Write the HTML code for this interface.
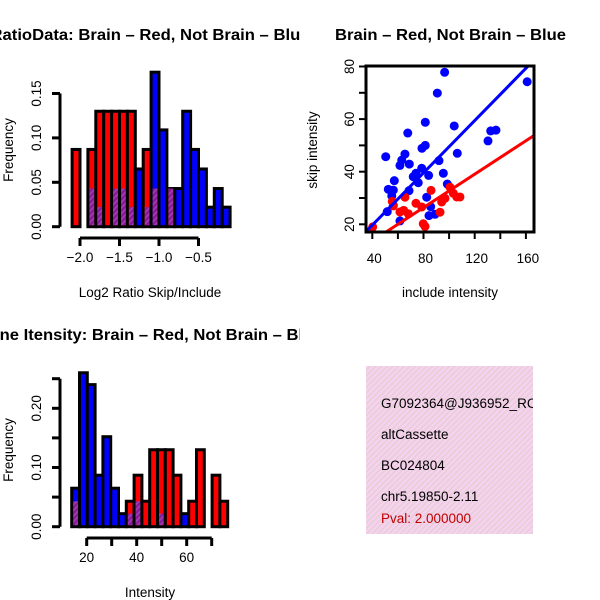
<!DOCTYPE html>
<html><head><meta charset="utf-8"><style>
body{margin:0;background:#fff}
svg{display:block;font-family:"Liberation Sans",sans-serif}
</style></head><body>
<svg id="s" width="600" height="600" viewBox="0 0 600 600">
<defs>
<pattern id="hatch" width="4" height="4" patternUnits="userSpaceOnUse" patternTransform="rotate(45)">
<rect width="4" height="4" fill="#8a1a9a"/><rect width="1.5" height="4" fill="#a040b0"/></pattern>
<pattern id="pinkh" width="4" height="4" patternUnits="userSpaceOnUse" patternTransform="rotate(45)">
<rect width="4" height="4" fill="#f8d0f0"/><rect width="1.3" height="4" fill="#e0d0d0"/></pattern>
<clipPath id="scClip"><rect x="366" y="66" width="168" height="166"/></clipPath>
<clipPath id="txClip"><rect x="366" y="366" width="167" height="168"/></clipPath>
<clipPath id="leftClip"><rect x="0" y="0" width="300" height="600"/></clipPath>
</defs>
<g clip-path="url(#leftClip)">
<text x="150" y="40" font-size="16" font-weight="bold" text-anchor="middle" textLength="319" lengthAdjust="spacingAndGlyphs">RatioData: Brain – Red, Not Brain – Blue</text>
<text x="150" y="340" font-size="16" font-weight="bold" text-anchor="middle" textLength="345" lengthAdjust="spacingAndGlyphs">Gene Itensity: Brain – Red, Not Brain – Blue</text>
</g>
<text x="335" y="40" font-size="16" font-weight="bold" textLength="231" lengthAdjust="spacingAndGlyphs">Brain – Red, Not Brain – Blue</text>
<g id="h1"></g>
<g id="h2"></g>
<g id="sc"></g>
<g>
<rect x="366" y="366" width="167" height="168" fill="url(#pinkh)"/>
<g clip-path="url(#txClip)" font-size="13.5">
<text x="381" y="408">G7092364@J936952_RC</text>
<text x="381" y="439">altCassette</text>
<text x="381" y="470">BC024804</text>
<text x="381" y="501">chr5.19850-2.11</text>
<text x="381" y="523" fill="#c00000">Pval: 2.000000</text>
</g></g>
</svg>
<script>
// Ratio histogram data
const ratioRed=[.087,0,.087,.13,.13,.13,.13,.13,0,.087,.043,0,.043,0,0,0,0,0,0,0];
const ratioBlue=[0,0,.043,.022,0,.043,.043,.022,.065,.022,.174,.109,.043,.043,.13,.087,.065,.022,.043,.022];
const ratioStart=-2.1, ratioStep=0.1;
const ratioXTicks=[-2.0,-1.5,-1.0,-0.5];
const ratioYTicks=[0,0.05,0.10,0.15];
// Intensity histogram data
const intRed=[.043,0,0,0,0,0,0,.043,.087,.043,.13,.13,.13,.087,0,.043,.13,0,.087,.043];
const intBlue=[.065,.26,.24,.087,.152,.065,.022,.022,.043,0,0,.022,0,0,.022,0,0,0,0,0];
const intStart=14, intStep=3.12;
const intXTicks=[20,30,40,50,60,70];
const intXLabels=["20","","40","","60",""];
const intYTicks=[0,0.05,0.10,0.15,0.20,0.25];
const intYLabels=["0.00","","0.10","","0.20",""];
// Scatter data
const blueX=[96.5,161,90.8,81.4,104,67.7,132.5,136.6,130.4,78.8,81.4,106.4,65.5,50.5,63,68.9,61.6,92.1,78.6,74.1,84,95.5,72,75.9,57.2,98.6,52.5,56.4,68.7,55.2,82.5,56.4,51.7,85.6,84.3,89,61.6];
const blueY=[77.8,74.2,69.9,58.8,57.4,54.7,55.5,55.8,51.7,48.9,50,47,46.7,45.7,44.4,42.9,42.4,44.2,41.3,39.4,38.6,39.4,38.1,35.8,36.6,35.3,33.3,33,32.8,30.8,30.3,27.2,24.8,26.7,23.3,23.8,21.3];
const redX=[85.9,100.7,65.5,74.1,103.3,106,96.8,94.2,55.6,64.5,68.1,56.4,78.6,92.9,79.8,81.2,40.3,61.6,108.5];
const redY=[32.9,34.1,30.3,28,31.8,30.4,29.9,28.5,28.7,25.3,24,27,26.6,24.6,20.2,19.2,19,24.7,30.4];
const blueFit=[-0.2,0.497], redFit=[0.96,0.3175];
const scXTicks=[40,60,80,100,120,140,160], scXLabels=["40","","80","","120","","160"];
const scYTicks=[20,30,40,50,60,70,80], scYLabels=["20","","40","","60","","80"];

const FS=13.5;
const NS="http://www.w3.org/2000/svg";
function mk(p,t,a){const e=document.createElementNS(NS,t);for(const k in a)e.setAttribute(k,a[k]);p.appendChild(e);return e;}

function hist(g,red,blue,start,step,xs,ys,xT,xL,yT,yL,xlab,ylab,axY,axX){
  const y0=ys(0);
  for(let i=0;i<red.length;i++){
    const x1=xs(start+i*step),x2=xs(start+(i+1)*step);
    const r=red[i],b=blue[i],hi=Math.max(r,b),lo=Math.min(r,b);
    if(hi<=0)continue;
    const r1=mk(g,'rect',{x:x1,y:ys(hi),width:x2-x1,height:y0-ys(hi),fill:r>=b?'#ff0000':'#0000ff',stroke:'#000','stroke-width':3});
    
    
    if(lo>0){
      const r2=mk(g,'rect',{x:x1+1.5,y:ys(lo),width:x2-x1-3,height:y0-ys(lo)-1.5,fill:'url(#hatch)'});
      
      
    }
  }
  const ya=mk(g,'g',{});
  
  
  mk(ya,'line',{x1:axY,x2:axY,y1:ys(yT[0]),y2:ys(yT[yT.length-1]),stroke:'#000','stroke-width':3});
  yT.forEach((v,i)=>{mk(ya,'line',{x1:axY-8,x2:axY,y1:ys(v),y2:ys(v),stroke:'#000','stroke-width':3});
    if(yL[i]){const t=mk(ya,'text',{x:0,y:0,'font-size':FS,'text-anchor':'middle',transform:`translate(${axY-19},${ys(v)}) rotate(-90)`});t.textContent=yL[i];
      
      }});
  const xa=mk(g,'g',{});
  
  
  mk(xa,'line',{x1:xs(xT[0]),x2:xs(xT[xT.length-1]),y1:axX,y2:axX,stroke:'#000','stroke-width':3});
  xT.forEach((v,i)=>{mk(xa,'line',{x1:xs(v),x2:xs(v),y1:axX,y2:axX+8,stroke:'#000','stroke-width':3});
    if(xL[i]){const t=mk(xa,'text',{x:xs(v),y:axX+24,'font-size':FS,'text-anchor':'middle'});t.textContent=xL[i];
      
      }});
  const xt=mk(g,'text',{x:xlab[1],y:xlab[2],'font-size':FS,'text-anchor':'middle'});xt.textContent=xlab[0];
  
  
  const yt=mk(g,'text',{x:0,y:0,'font-size':FS,'text-anchor':'middle',transform:`translate(${ylab[1]},${ylab[2]}) rotate(-90)`});yt.textContent=ylab[0];
  
  
}
{
 const xs=v=>80+(v+2.0)*79, ys=v=>226.7-v*888;
 hist(document.getElementById('h1'),ratioRed,ratioBlue,ratioStart,ratioStep,xs,ys,ratioXTicks,
  ratioXTicks.map(v=>v.toFixed(1).replace('-','\u2212')),ratioYTicks,ratioYTicks.map(v=>v.toFixed(2)),
  ['Log2 Ratio Skip/Include',150,297],['Frequency',13,150],60,238);
}
{
 const xs=v=>86.7+(v-20)*2.5, ys=v=>526.7-v*592;
 hist(document.getElementById('h2'),intRed,intBlue,intStart,intStep,xs,ys,intXTicks,intXLabels,intYTicks,intYLabels,
  ['Intensity',150,597],['Frequency',13,450],60,538);
}
{
 const g=document.getElementById('sc');
 const xs=v=>372.3+(v-40)*1.28, ys=v=>224.3-(v-20)*2.63;
 const cg=mk(g,'g',{'clip-path':'url(#scClip)'});
 blueX.forEach((v,i)=>{const c=mk(cg,'circle',{cx:xs(v),cy:ys(blueY[i]),r:4.5,fill:'#0000ff'});
  
  });
 redX.forEach((v,i)=>{const c=mk(cg,'circle',{cx:xs(v),cy:ys(redY[i]),r:4.5,fill:'#ff0000'});
  
  });
 [[blueFit,'#0000ff','fit-line-blue'],[redFit,'#ff0000','fit-line-red']].forEach(([f,col,n])=>{
  const l=mk(cg,'line',{x1:xs(20),y1:ys(f[0]+f[1]*20),x2:xs(180),y2:ys(f[0]+f[1]*180),stroke:col,'stroke-width':3});
  
  });
 const fr=mk(g,'rect',{x:366,y:66,width:168,height:166,fill:'none',stroke:'#000','stroke-width':3});
 
 
 scXTicks.forEach((v,i)=>{mk(g,'line',{x1:xs(v),x2:xs(v),y1:232,y2:239,stroke:'#000','stroke-width':2});
  if(scXLabels[i]){const t=mk(g,'text',{x:xs(v)+2,y:263,'font-size':FS,'text-anchor':'middle'});t.textContent=scXLabels[i];
   
   }});
 scYTicks.forEach((v,i)=>{mk(g,'line',{x1:359,x2:366,y1:ys(v),y2:ys(v),stroke:'#000','stroke-width':2});
  if(scYLabels[i]){const t=mk(g,'text',{x:0,y:0,'font-size':FS,'text-anchor':'middle',transform:`translate(${354},${ys(v)}) rotate(-90)`});t.textContent=scYLabels[i];
   
   }});
 const xt=mk(g,'text',{x:450,y:297,'font-size':FS,'text-anchor':'middle'});xt.textContent='include intensity';
 
 
 const yt=mk(g,'text',{x:0,y:0,'font-size':FS,'text-anchor':'middle',transform:'translate(317,150) rotate(-90)'});yt.textContent='skip intensity';
 
 
}
</script>
</body></html>
